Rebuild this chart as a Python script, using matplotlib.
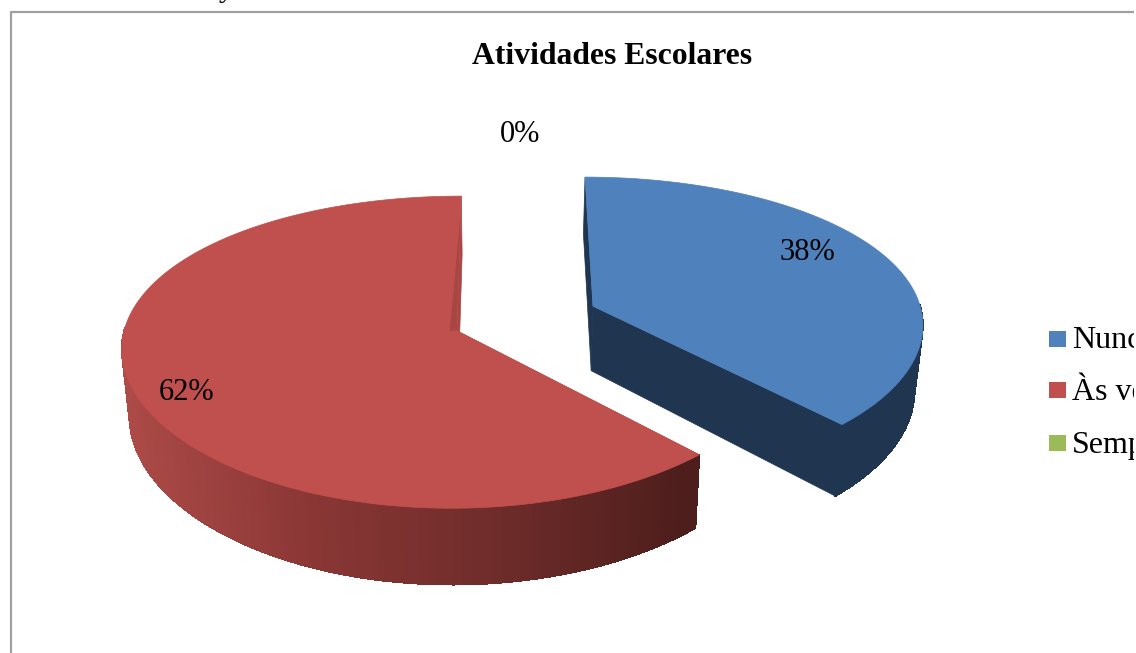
#!/usr/bin/env python3
"""
Atividades Escolares - exploded 3D pie drawn with a simple perspective.
"""

import numpy as np
import matplotlib
matplotlib.use("Agg")
import matplotlib.pyplot as plt
from matplotlib.collections import PolyCollection
from matplotlib.colors import LinearSegmentedColormap
from matplotlib.patches import Polygon, Rectangle

# Chart data
title = "Atividades Escolares"
categories = ["Nunca", "Às vezes", "Sempre"]
values = [38, 62, 0]

TOP_COLORS = ["#4f81bd", "#c0504d", "#9bbb59"]
BLUE_SIDE = "#1f3550"
RED_WALL = "#a84644"
FRAME = "#a0a0a0"

# Perspective settings (pixels, radius = 1 in the pie plane)
W, H, K = 333, 1117, 0.1374
VX, YH = 505, -785
X_POWER = 0.75
DEPTH, SHRINK = 66, 0.98
CENTER_U, CENTER_V = 0.062, 0.09
EXPLODE = 0.2224

red_shade = LinearSegmentedColormap.from_list(
    "red_shade", ["#ad4b48", "#8a3735", "#6e2c2a", "#4d1e1c"])

plt.rcParams["font.family"] = ["Liberation Serif", "DejaVu Serif"]


def project(u, v):
    """Pie plane point to the screen, for the top face and the bottom face"""
    s = 1 / (1 + K * v)
    x = VX + W * u * s ** X_POWER
    y = YH + H * s
    return x, y, VX + (x - VX) * SHRINK, y + DEPTH * s


def draw_slice(ax, start, end, color, wall_color=None, side_color=None, inner_strip=False):
    """Draw one slice going clockwise from the top, angles in radians"""
    mid = (start + end) / 2
    u0 = CENTER_U + EXPLODE * np.sin(mid)
    v0 = CENTER_V + EXPLODE * np.cos(mid)
    theta = np.linspace(start, end, 240)
    x, y, xb, yb = project(u0 + np.sin(theta), v0 + np.cos(theta))
    ax0, ay0, bx0, by0 = project(u0, v0)

    # Cut faces
    for i in (0, -1):
        ax.add_patch(Polygon([(ax0, ay0), (x[i], y[i]), (xb[i], yb[i]), (bx0, by0)],
                             facecolor=wall_color, edgecolor=wall_color, lw=0.5, zorder=2))

    # Outer wall, as thin strips so the shade can change along it (front part only)
    front = [i for i in range(len(theta) - 1) if np.cos(theta[i]) < 0.02]
    quads = [[(x[i], y[i]), (x[i + 1], y[i + 1]), (xb[i + 1], yb[i + 1]), (xb[i], yb[i])]
             for i in front]
    if side_color is None:
        shades = red_shade(np.clip((x[front] - 118) / (690 - 118), 0, 1))
    else:
        shades = [side_color] * len(quads)
    ax.add_collection(PolyCollection(quads, facecolors=shades, edgecolors="face",
                                     linewidths=0.5, antialiaseds=False, zorder=3))

    # Top face
    top = [(ax0, ay0)] + list(zip(x, y))
    ax.add_patch(Polygon(top, facecolor=color, edgecolor=color, lw=0.5, zorder=4))

    # Darker strip along the straight edge at the end of the red slice
    if inner_strip:
        tip_x = ax0 + (x[-1] - ax0) * 0.88
        tip_y = ay0 + (y[-1] - ay0) * 0.88
        ax.add_patch(Polygon([(ax0, ay0), (tip_x, tip_y), (ax0 - 7, ay0)],
                             facecolor=wall_color, edgecolor="none", zorder=4.5))


def main():
    fig = plt.figure(figsize=(11.36, 6.53), dpi=100)
    ax = fig.add_axes([0, 0, 1, 1])
    ax.set_xlim(0, 1136)
    ax.set_ylim(653, 0)
    ax.axis("off")

    # Frame runs off the bottom of the crop
    ax.plot([11, 11, 1136], [653, 12, 12], color=FRAME, lw=1.6, zorder=1)
    ax.text(226, -4, "y", fontsize=22, ha="center", va="baseline", clip_on=False)

    ax.text(612, 56, title, fontsize=22.8, fontweight="bold", ha="center", va="center")

    # Slices
    total = sum(values)
    angles = np.cumsum([0] + values) / total * 2 * np.pi
    draw_slice(ax, angles[1], angles[2], TOP_COLORS[1], wall_color=RED_WALL, inner_strip=True)
    draw_slice(ax, angles[0], angles[1], TOP_COLORS[0], wall_color=BLUE_SIDE,
               side_color=BLUE_SIDE)

    # Percent labels
    label_pos = [(807, 253), (187, 393), (520, 135)]
    for value, (lx, ly) in zip(values, label_pos):
        ax.text(lx, ly, f"{value / total:.0%}", fontsize=22, ha="center", va="center",
                zorder=5)

    # Legend is cut by the crop on the right, same as the source picture
    legend_y = [339, 390, 443]
    for name, color, ly in zip(categories, TOP_COLORS, legend_y):
        ax.add_patch(Rectangle((1049, ly - 8), 17, 16, facecolor=color, edgecolor="none"))
        ax.text(1072, ly + 2, name, fontsize=23, ha="left", va="center")
    ax.add_patch(Rectangle((1134, 0), 2, 653, facecolor="white", edgecolor="none", zorder=10))

    fig.savefig("out.png", dpi=100)


if __name__ == "__main__":
    main()
